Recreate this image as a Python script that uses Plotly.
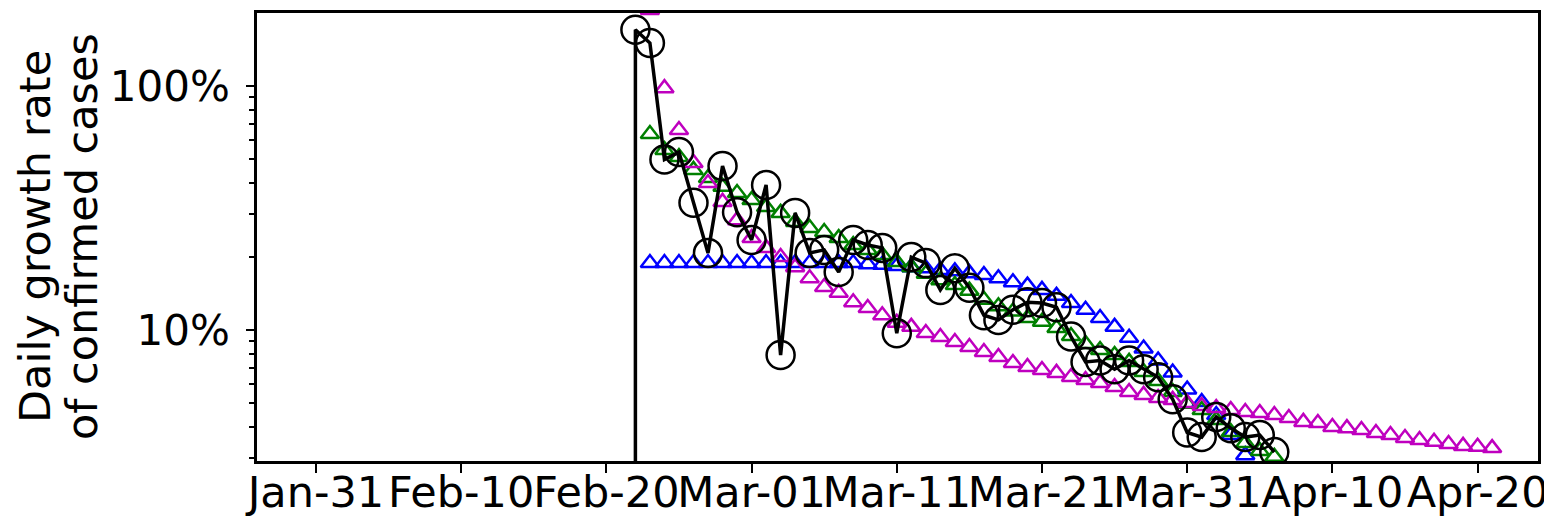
import pandas as pd
import plotly.graph_objects as go

# ---- data (daily growth rate, percent) ----
black_start = "2020-02-21"
black_vals = [0, 170, 150, 50, 53.6, 33.2, 20.7, 47, 30.4,
              23.4, 39.3, 7.9, 30.2, 20.7, 21.3, 17.3, 23.4, 22.3, 21.7,
              9.7, 19.9, 18.8, 14.6, 17.9, 14.9, 11.5, 11.0, 12.1, 13.0,
              12.9, 12.4, 9.4, 7.4, 7.5, 6.9, 7.5, 6.9, 6.4, 5.2, 3.8,
              3.64, 4.4, 3.96, 3.64, 3.71, 3.16]

blue_start = "2020-02-23"
blue_vals = [18.8] * 15 + [18.6, 18.5, 18.3, 18.1, 17.9, 17.6, 17.4, 17.1,
                           16.8, 16.3, 15.7, 15.2, 14.6, 13.8, 12.9, 12.1,
                           11.2, 10.3, 9.3, 8.4, 7.5, 6.7, 5.7,
                           5.07, 4.48, 3.71, 3.07]

green_start = "2020-02-23"
green_vals = [63.6, 54.7, 51.2, 45.3, 42.0, 38.6, 36.4,
              34.1, 31.9, 30.2, 27.7, 26.2, 25.2, 23.8, 22.3, 21.3, 20.3,
              19.0, 18.1, 17.0, 16.0, 15.3, 14.5, 13.3, 12.5, 11.9, 11.2,
              10.8, 10.2, 9.45, 8.77, 8.28, 7.9, 7.4, 6.73, 6.18, 5.57, 4.98,
              4.70, 4.28, 3.82, 3.44, 3.19, 3.02]

magenta_start = "2020-02-23"
magenta_vals = [205, 98, 66, 48.4, 40.0, 33.5, 28.2,
                23.8, 21.7, 19.9, 18.1, 16.3, 15.0, 14.2, 13.0, 12.3, 11.5,
                10.7, 10.3, 9.72, 9.36, 8.93, 8.52, 8.12, 7.75, 7.32, 7.05,
                6.86, 6.67, 6.42, 6.24, 6.06, 5.84, 5.57, 5.42, 5.26, 5.17, 5.02,
                4.88, 4.79, 4.70, 4.61, 4.57, 4.48, 4.36, 4.20, 4.16, 4.00,
                3.96, 3.89, 3.78, 3.71, 3.61, 3.54, 3.48, 3.41, 3.35, 3.32, 3.28]

y_tick_vals = [10, 100]
y_tick_text = ["10%", "100%"]
y_minor_vals = [3, 4, 5, 6, 7, 8, 9, 20, 30, 40, 50, 60, 70, 80, 90, 200]
x_tick0 = "2020-01-31"
x_range = ["2020-01-26 22:34", "2020-04-24 03:50"]
y_range_log = [0.4631, 2.2992]
y_title_lines = ["Daily growth rate", "of confirmed cases"]


def dates(start, vals):
    return pd.date_range(start, periods=len(vals), freq="D")


FONT = "DejaVu Sans, Liberation Sans, sans-serif"

fig = go.Figure()

tri = dict(symbol="triangle-up-open", size=16, line=dict(width=2.5))
fig.add_trace(go.Scatter(x=dates(blue_start, blue_vals), y=blue_vals, mode="markers",
                         marker=dict(color="#0000ff", **tri), showlegend=False))
fig.add_trace(go.Scatter(x=dates(green_start, green_vals), y=green_vals, mode="markers",
                         marker=dict(color="#008000", **tri), showlegend=False))
fig.add_trace(go.Scatter(x=dates(magenta_start, magenta_vals), y=magenta_vals, mode="markers",
                         marker=dict(color="#bf00bf", **tri), showlegend=False))
fig.add_trace(go.Scatter(x=dates(black_start, black_vals), y=black_vals, mode="lines+markers",
                         xaxis="x2",
                         line=dict(color="black", width=3.5),
                         marker=dict(symbol="circle-open", size=28, color="black",
                                     line=dict(width=2.5)),
                         showlegend=False))

title_x = [-0.1733, -0.1366]
annotations = [dict(text=t, textangle=-90, xref="paper", yref="paper",
                    x=xx, y=0.5, xanchor="center", yanchor="middle",
                    showarrow=False, font=dict(family=FONT, size=43, color="black"))
               for t, xx in zip(y_title_lines, title_x)]

# page body has an 8px margin, so the figure is offset by 8px inside the window
fig.update_layout(
    width=1544, height=522,
    margin=dict(l=249, r=14, t=5, b=69, pad=0, autoexpand=False),
    paper_bgcolor="white", plot_bgcolor="white",
    font=dict(family=FONT, size=42, color="black"),
    annotations=annotations,
    # primary x axis: frame and tick marks
    xaxis=dict(type="date", range=x_range, tick0=x_tick0, dtick=10 * 86400000,
               showticklabels=False, automargin=False,
               ticks="outside", ticklen=9, tickwidth=2, tickcolor="black",
               showline=True, linecolor="black", linewidth=2.5, mirror=True,
               showgrid=False, zeroline=False),
    # overlaid x axis: tick labels only (placed close to the frame)
    xaxis2=dict(type="date", range=x_range, tick0=x_tick0, dtick=10 * 86400000,
                overlaying="x", anchor="y", side="bottom", matches="x",
                tickformat="%b-%d", tickangle=0, automargin=False,
                ticks="", showline=False, showgrid=False, zeroline=False,
                ticklabelstandoff=2, tickfont=dict(size=43)),
)
fig.update_yaxes(type="log", range=y_range_log, tickmode="array",
                 tickvals=y_tick_vals, ticktext=y_tick_text, automargin=False,
                 ticks="outside", ticklen=8, tickwidth=2, tickcolor="black",
                 minor=dict(tickmode="array", tickvals=y_minor_vals, ticks="outside",
                            ticklen=5, tickwidth=1.5, tickcolor="black", showgrid=False),
                 showline=True, linecolor="black", linewidth=2.5, mirror=True,
                 showgrid=False, zeroline=False, ticklabelstandoff=8,
                 tickfont=dict(size=42))

fig.write_html("out.html")
